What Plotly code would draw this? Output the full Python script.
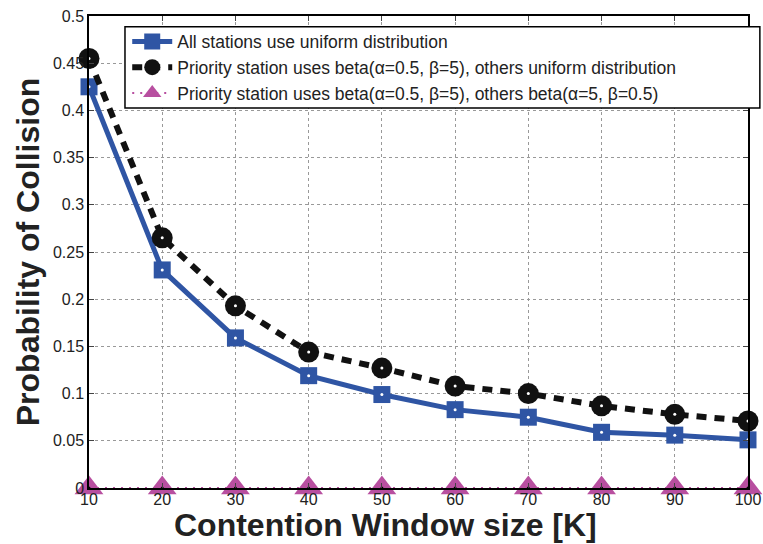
import plotly.graph_objects as go

window = [10, 20, 30, 40, 50, 60, 70, 80, 90, 100]
uniform_all = [0.425, 0.231, 0.159, 0.119, 0.099, 0.083, 0.075, 0.059, 0.056, 0.051]
beta_uniform = [0.455, 0.265, 0.193, 0.144, 0.127, 0.108, 0.100, 0.087, 0.078, 0.071]
beta_beta = [0, 0, 0, 0, 0, 0, 0, 0, 0, 0]

names = ["All stations use uniform distribution",
         "Priority station uses beta(\u03b1=0.5, \u03b2=5), others uniform distribution",
         "Priority station uses beta(\u03b1=0.5, \u03b2=5), others beta(\u03b1=5, \u03b2=0.5)"]

fig = go.Figure()
fig.add_trace(go.Scatter(x=window, y=uniform_all, name=names[0], mode="lines+markers",
                         line=dict(color="#2f55a4", width=5),
                         marker=dict(symbol="square", size=17, color="#2f55a4"),
                         cliponaxis=False))
fig.add_trace(go.Scatter(x=window, y=beta_uniform, name=names[1], mode="lines+markers",
                         line=dict(color="#111111", width=6, dash="10px,8px"),
                         marker=dict(symbol="circle", size=21, color="#111111"),
                         cliponaxis=False))
fig.add_trace(go.Scatter(x=window, y=beta_beta, name=names[2], mode="lines+markers",
                         line=dict(color="#b84fa0", width=2, dash="2px,6px"),
                         marker=dict(symbol="triangle-up", size=25, color="#b84fa0"),
                         cliponaxis=False))
# small centre dots seen in the markers
fig.add_trace(go.Scatter(x=window, y=uniform_all, mode="markers", showlegend=False,
                         marker=dict(size=3, color="white"), cliponaxis=False))
fig.add_trace(go.Scatter(x=window, y=beta_uniform, mode="markers", showlegend=False,
                         marker=dict(size=3, color="white"), cliponaxis=False))
fig.add_trace(go.Scatter(x=window, y=beta_beta, mode="markers", showlegend=False,
                         marker=dict(size=3, color="black"), cliponaxis=False))

fig.update_layout(
    width=763, height=544,
    margin=dict(l=89, r=15, t=16, b=56),
    plot_bgcolor="white", paper_bgcolor="white",
    font=dict(family="Liberation Sans, Arial", color="#222222", size=16),
    legend=dict(x=0.058, y=0.984, xanchor="left", yanchor="top",
                borderwidth=0, bgcolor="rgba(0,0,0,0)",
                font=dict(size=17.5), tracegroupgap=0, itemwidth=40),
    # matlab-style legend box, wider than its text
    shapes=[dict(type="rect", xref="paper", yref="paper", x0=0.0546, x1=1.018,
                 y0=0.805, y1=0.977, line=dict(color="black", width=1.5),
                 fillcolor="white", layer="above")],
    # x title sits left of centre in the original
    annotations=[dict(text="<b>Contention Window size [K]</b>", xref="paper", yref="paper",
                      x=(385 - 89) / 659, y=-0.035, xanchor="center", yanchor="top",
                      showarrow=False, font=dict(size=32))],
)
fig.update_xaxes(range=[10, 100], tickvals=window, showline=True, linecolor="black",
                 linewidth=1.5, mirror="ticks", ticks="inside", ticklen=5,
                 showgrid=True, gridcolor="#999999", griddash="dot", gridwidth=1,
                 zeroline=False, automargin=False, ticklabelstandoff=-4,
                 ticklabeloverflow="allow")
fig.update_yaxes(range=[0, 0.5], dtick=0.05, showline=True, linecolor="black",
                 linewidth=1.5, mirror="ticks", ticks="inside", ticklen=5,
                 showgrid=True, gridcolor="#999999", griddash="dot", gridwidth=1,
                 zeroline=False, tickformat="~g", automargin=False,
                 ticklabeloverflow="allow",
                 title=dict(text="<b>Probability of Collision</b>", font=dict(size=32), standoff=4))

fig.write_html("out.html", config={"displayModeBar": False},
               post_script="document.body.style.margin='0';")
